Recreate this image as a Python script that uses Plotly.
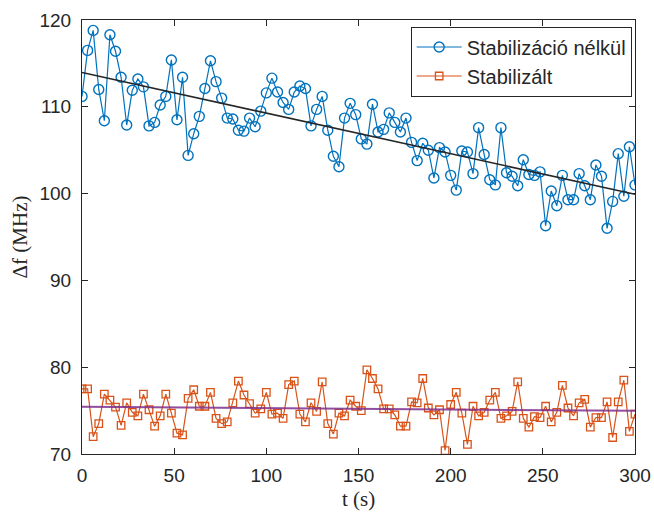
import numpy as np
import plotly.graph_objects as go

# Sampling times (s): 100 equally spaced readings over 300 s
t = np.linspace(0, 300, 100)

# Frequency offset without stabilization (MHz)
df_free = [
    111.2, 116.5, 118.8, 112.0, 108.4, 118.3, 116.4, 113.4, 107.9, 111.9,
    113.2, 112.3, 107.8, 108.2, 110.2, 111.2, 115.4, 108.5, 113.4, 104.4,
    106.9, 108.9, 112.1, 115.3, 112.9, 111.0, 108.7, 108.6, 107.3, 107.2,
    108.7, 107.7, 109.5, 111.6, 113.3, 111.7, 110.5, 109.7, 111.7, 112.4,
    112.1, 107.8, 109.7, 111.2, 107.3, 104.3, 103.1, 108.7, 110.4, 109.1,
    106.3, 105.7, 110.3, 107.1, 107.4, 109.3, 108.2, 107.1, 108.7, 105.9,
    103.8, 105.8, 105.0, 101.8, 105.3, 104.8, 102.1, 100.4, 104.9, 104.8,
    102.3, 107.6, 104.5, 101.6, 101.0, 107.6, 102.4, 102.0, 100.9, 103.9,
    102.2, 102.1, 102.5, 96.3, 100.3, 98.6, 102.1, 99.3, 99.3, 102.3,
    100.9, 99.3, 103.3, 102.0, 96.0, 99.1, 104.6, 99.7, 105.4, 101.0,
]

# Frequency offset with stabilization (MHz)
df_stab = [
    77.5, 77.5, 72.0, 73.5, 76.9, 76.2, 75.4, 73.3, 75.9, 74.8,
    74.4, 76.9, 75.1, 73.2, 74.4, 76.9, 74.7, 72.4, 72.2, 76.4,
    77.4, 75.5, 75.5, 77.1, 74.1, 73.5, 73.7, 75.9, 78.4, 76.8,
    75.8, 74.7, 75.2, 77.1, 74.6, 74.7, 74.1, 78.0, 78.4, 74.6,
    73.7, 75.9, 74.9, 78.3, 73.5, 72.3, 74.7, 74.4, 76.2, 75.5,
    75.0, 79.7, 78.7, 77.5, 75.2, 75.2, 74.5, 73.2, 73.2, 76.0,
    75.9, 78.7, 75.3, 74.5, 75.1, 70.4, 75.7, 77.1, 74.7, 71.1,
    75.5, 74.4, 74.8, 76.2, 77.1, 74.1, 74.4, 74.9, 78.3, 74.1,
    73.1, 74.3, 74.2, 75.5, 73.7, 74.8, 77.9, 75.3, 74.4, 75.9,
    76.3, 73.1, 74.2, 74.2, 76.0, 71.9, 76.0, 78.5, 72.6, 74.6,
]

labels = ["Stabilizáció nélkül", "Stabilizált"]
x_ticks = [0, 50, 100, 150, 200, 250, 300]
y_ticks = [70, 80, 90, 100, 110, 120]

BLUE = "#0072BD"
ORANGE = "#D95319"
PURPLE = "#7E2F8E"
AXIS = "#262626"

# Linear trends of both series
fit_free = np.poly1d(np.polyfit(t, df_free, 1))
fit_stab = np.poly1d(np.polyfit(t, df_stab, 1))
t_fit = np.array([t[0], t[-1]])

fig = go.Figure()
fig.add_trace(go.Scatter(
    x=t, y=df_free, mode="lines+markers", name=labels[0],
    line=dict(color=BLUE, width=1.2),
    marker=dict(symbol="circle-open", size=10, color=BLUE, line=dict(width=1.4)),
))
fig.add_trace(go.Scatter(
    x=t, y=df_stab, mode="lines+markers", name=labels[1],
    line=dict(color=ORANGE, width=1.2),
    marker=dict(symbol="square-open", size=7.5, color=ORANGE, line=dict(width=1.3)),
))
fig.add_trace(go.Scatter(
    x=t_fit, y=fit_free(t_fit), mode="lines", showlegend=False,
    line=dict(color=AXIS, width=1.6),
))
fig.add_trace(go.Scatter(
    x=t_fit, y=fit_stab(t_fit), mode="lines", showlegend=False,
    line=dict(color=PURPLE, width=2), opacity=0.85,
))

axis_common = dict(
    showgrid=False, zeroline=False, showline=True, linecolor=AXIS, linewidth=1,
    mirror="ticks", ticks="inside", ticklen=6, tickcolor=AXIS, tickwidth=1,
    automargin=False,
    tickfont=dict(family="Liberation Sans, Arial, sans-serif", size=19, color=AXIS),
)

fig.update_layout(
    width=654, height=513,
    margin=dict(l=82, r=19, t=20, b=59, autoexpand=False),
    paper_bgcolor="white", plot_bgcolor="white",
    showlegend=True,
    legend=dict(
        x=0.994, y=0.985, xanchor="right", yanchor="top",
        bgcolor="white", bordercolor=AXIS, borderwidth=1,
        font=dict(family="Liberation Sans, Arial, sans-serif", size=20, color=AXIS),
        itemwidth=45, tracegroupgap=0,
    ),
    xaxis=dict(
        range=[0, 300], tickvals=x_ticks, ticklabelstandoff=4,
        title=dict(text="t (s)", standoff=6,
                   font=dict(family="Liberation Serif, serif", size=21, color=AXIS)),
        **axis_common,
    ),
    yaxis=dict(
        range=[70, 120], tickvals=y_ticks, ticklabelstandoff=6,
        title=dict(text="Δf (MHz)", standoff=6,
                   font=dict(family="Liberation Serif, serif", size=21, color=AXIS)),
        **axis_common,
    ),
)

fig.write_html("out.html")
